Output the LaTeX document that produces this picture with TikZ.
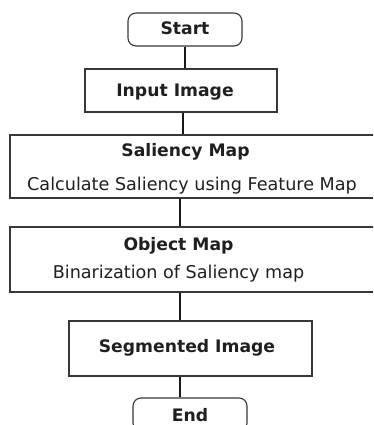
\documentclass[tikz,border=0pt]{standalone}
\usepackage{fontspec}
\setmainfont{DejaVu Sans}
\begin{document}
\begin{tikzpicture}[x=1pt,y=-1pt,
  box/.style={draw=black!78,line width=1.1pt,rectangle,inner sep=0pt},
  term/.style={box,rounded corners=8pt},
  link/.style={draw=black!90,line width=2.4pt},
  txt/.style={inner sep=0pt,anchor=base,text=black!88,font=\fontsize{17.6}{20}\selectfont},
  btxt/.style={txt,font=\fontsize{17.2}{20}\selectfont\bfseries}]
\useasboundingbox (0,0) rectangle (373,425);
\clip (0,0) rectangle (373,425);
% boxes
\node[term,minimum width=114pt,minimum height=33pt] (start) at (185,29.5) {};
\node[box,minimum width=192pt,minimum height=43pt] (input) at (181,90.5) {};
\node[box,minimum width=368pt,minimum height=63pt] (sal) at (194,166.5) {};
\node[box,minimum width=368pt,minimum height=65pt] (obj) at (194,259.5) {};
\node[box,minimum width=243pt,minimum height=55pt] (seg) at (190.5,348.5) {};
\node[term,minimum width=114pt,minimum height=33pt] (end) at (190,414.5) {};
% texts
\node[btxt] (tstart) at (185,35) {Start};
\node[btxt] (tinput) at (175,97) {Input Image};
\node[btxt] (tsal) at (185.5,156.5) {Saliency Map};
\node[txt] (tsal2) at (192,190) {Calculate Saliency using Feature Map};
\node[btxt] (tobj) at (178.5,250) {Object Map};
\node[txt] (tobj2) at (178.5,278) {Binarization of Saliency map};
\node[btxt] (tseg) at (187,352.5) {Segmented Image};
\node[btxt] (tend) at (190,421) {End};
% connector x positions
\coordinate (xa) at (185,0);
\coordinate (xb) at (183,0);
\coordinate (xc) at (180,0);
\draw[link] (start.south -| xa) -- (input.north -| xa);
\draw[link] (input.south -| xb) -- (sal.north -| xb);
\draw[link] (sal.south -| xc) -- (obj.north -| xc);
\draw[link] (obj.south -| xc) -- (seg.north -| xc);
\draw[link] (seg.south -| xc) -- (end.north -| xc);
\end{tikzpicture}
\end{document}
